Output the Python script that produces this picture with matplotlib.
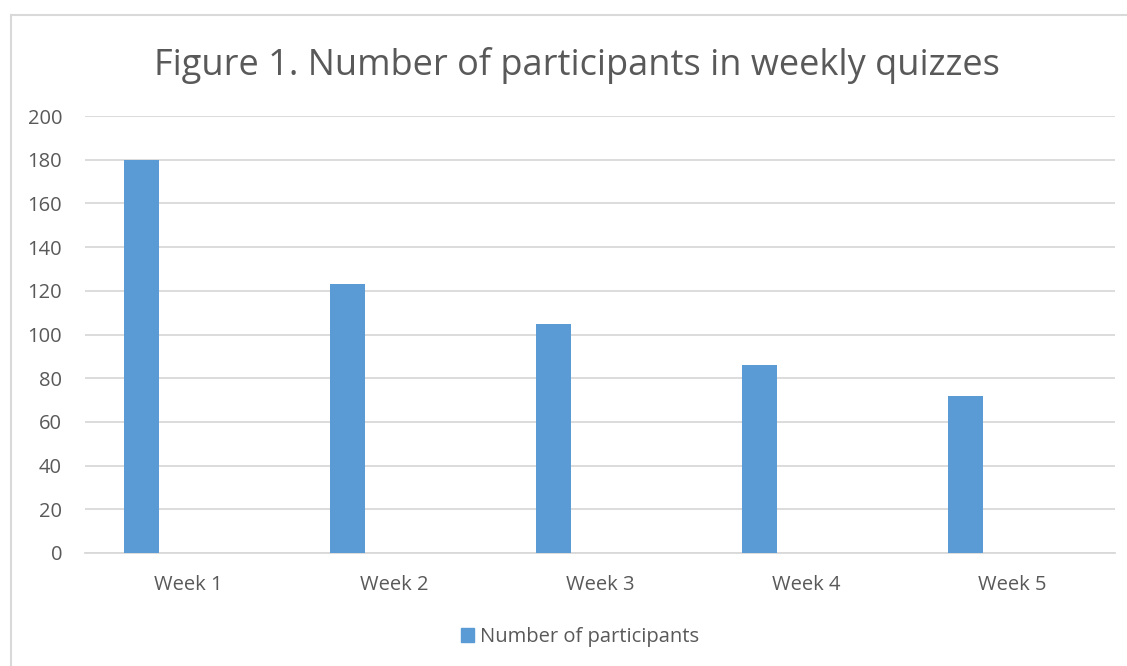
import matplotlib
matplotlib.use("Agg")
import matplotlib.pyplot as plt
from matplotlib.patches import Patch
import numpy as np

plt.rcParams["font.family"] = ["Open Sans", "DejaVu Sans"]

weeks = ["Week 1", "Week 2", "Week 3", "Week 4", "Week 5"]
participants = [180, 123, 105, 86, 72]
y_ticks = [0, 20, 40, 60, 80, 100, 120, 140, 160, 180, 200]

BAR_COLOR = "#5B9BD5"
GRID_COLOR = "#D9D9D9"
TEXT_COLOR = "#595959"

W, H = 1127, 666
fig = plt.figure(figsize=(W / 100, H / 100), dpi=100)

# plot area in pixels: x 85..1115, y 116..553
ax = fig.add_axes([85 / W, 1 - 553 / H, (1115 - 85) / W, (553 - 116) / H])

x = np.arange(len(weeks))
ax.bar(x - 0.226, participants, width=0.17, color=BAR_COLOR, zorder=3)

ax.set_xlim(-0.5, len(weeks) - 0.5)
ax.set_ylim(0, 200)
ax.set_yticks(y_ticks)
ax.set_xticks(x)
ax.set_xticklabels(weeks)
ax.yaxis.grid(True, color=GRID_COLOR, lw=1.3, zorder=0)
ax.tick_params(axis="both", length=0, labelsize=14.5, labelcolor=TEXT_COLOR)
ax.tick_params(axis="y", pad=16.5)
ax.tick_params(axis="x", pad=16)
for s in ["top", "right", "left"]:
    ax.spines[s].set_visible(False)
ax.spines["bottom"].set_color(GRID_COLOR)
ax.spines["bottom"].set_linewidth(1.3)

fig.text(577 / W, 1 - 65 / H, "Figure 1. Number of participants in weekly quizzes",
         ha="center", va="center", fontsize=26, color=TEXT_COLOR)

fig.legend(handles=[Patch(color=BAR_COLOR)], labels=["Number of participants"],
           loc="center", bbox_to_anchor=(580 / W, 1 - 637 / H), frameon=False,
           fontsize=14.5, labelcolor=TEXT_COLOR, handlelength=0.65, handleheight=0.65,
           handletextpad=0.25)

# chart-area border (left and top visible)
fig.add_artist(plt.Line2D([11 / W, 11 / W], [0, 1 - 15 / H], transform=fig.transFigure,
                          color=GRID_COLOR, lw=1.5))
fig.add_artist(plt.Line2D([11 / W, 1], [1 - 15 / H, 1 - 15 / H], transform=fig.transFigure,
                          color=GRID_COLOR, lw=1.5))

fig.savefig("out.png", dpi=100)
